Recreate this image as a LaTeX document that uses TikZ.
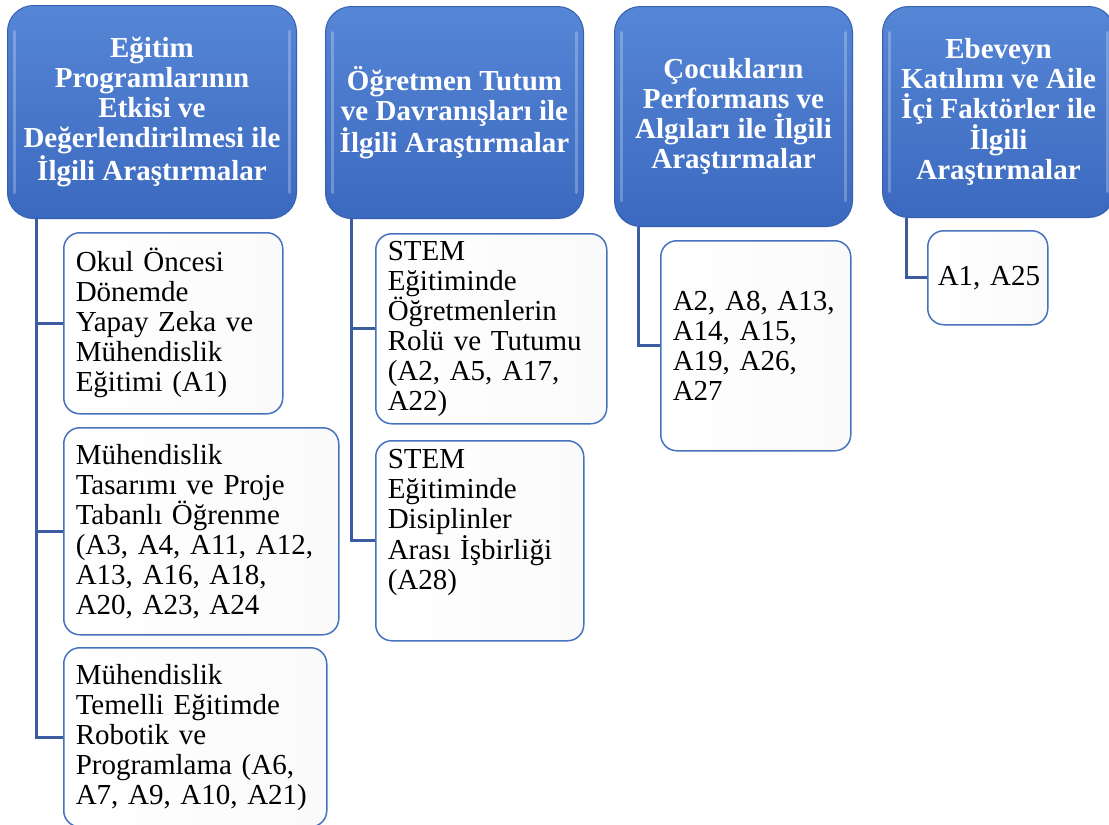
\documentclass[tikz,border=0pt]{standalone}
\usepackage{fontspec}
\setmainfont{Liberation Serif}
\usepackage{tikz}
\usetikzlibrary{positioning,calc}
\usepackage{xcolor}

\definecolor{topictop}{HTML}{5686D6}
\definecolor{topicbot}{HTML}{3B69BF}
\definecolor{topicedge}{HTML}{3560B0}
\definecolor{itemedge}{HTML}{4672C0}
\definecolor{linkblue}{HTML}{3C5CA2}

\begin{document}
\begin{tikzpicture}[
  x=1pt, y=-1pt,
  topic/.style={rounded corners=26pt, draw=topicedge, line width=1pt,
    top color=topictop, bottom color=topicbot, anchor=north west,
    align=center, text=white, inner sep=4pt,
    font=\bfseries\fontsize{29}{30}\selectfont,
    path picture={
      \draw[white, opacity=0.25, line width=3.5pt, line cap=round]
        ([shift={(7pt,-26pt)}]path picture bounding box.north west)
        -- ([shift={(7pt,26pt)}]path picture bounding box.south west);
      \draw[white, opacity=0.25, line width=3.5pt, line cap=round]
        ([shift={(-7pt,-26pt)}]path picture bounding box.north east)
        -- ([shift={(-7pt,26pt)}]path picture bounding box.south east);
    }},
  item/.style={rounded corners=16pt, draw=itemedge, line width=1.5pt,
    left color=white, right color=gray!4, anchor=north west,
    align=left, inner xsep=12pt, inner ysep=6pt,
    font=\fontsize{29}{30}\selectfont},
  link/.style={draw=linkblue, line width=3pt},
]
\useasboundingbox (0,0) rectangle (1109,825);

% ---- Topic headers ----
\node[topic, minimum width=289pt, minimum height=213pt] (h1) at (7,5)
  {Eğitim\\Programlarının\\Etkisi ve\\Değerlendirilmesi ile\\İlgili Araştırmalar};
\node[topic, minimum width=258pt, minimum height=212pt] (h2) at (325,6)
  {Öğretmen Tutum\\ve Davranışları ile\\İlgili Araştırmalar};
\node[topic, minimum width=238pt, minimum height=220pt] (h3) at (614,6)
  {Çocukların\\Performans ve\\Algıları ile İlgili\\Araştırmalar};
\node[topic, minimum width=232pt, minimum height=211pt] (h4) at (882,6)
  {Ebeveyn\\Katılımı ve Aile\\İçi Faktörler ile\\İlgili\\Araştırmalar};

% ---- Column 1 ----
\node[item, text width=195pt, minimum height=181pt] (c11) at (63,232)
  {Okul Öncesi\\Dönemde\\Yapay Zeka ve\\Mühendislik\\Eğitimi (A1)};
\node[item, text width=251pt, minimum height=207pt] (c12) at (63,427)
  {Mühendislik\\Tasarımı ve Proje\\Tabanlı Öğrenme\\(A3, A4, A11, A12,\\A13, A16, A18,\\A20, A23, A24};
\node[item, text width=239pt, minimum height=179pt] (c13) at (63,647)
  {Mühendislik\\Temelli Eğitimde\\Robotik ve\\Programlama (A6,\\A7, A9, A10, A21)};

% ---- Column 2 ----
\node[item, text width=207pt, minimum height=190pt] (c21) at (375,233)
  {STEM\\Eğitiminde\\Öğretmenlerin\\Rolü ve Tutumu\\(A2, A5, A17,\\A22)};
\node[item, text width=184pt, text height=22pt, text depth=166pt] (c22) at (375,440)
  {STEM\\Eğitiminde\\Disiplinler\\Arası İşbirliği\\(A28)};

% ---- Column 3 ----
\node[item, text width=166pt, minimum height=210pt] (c31) at (660,240)
  {A2, A8, A13,\\A14, A15,\\A19, A26,\\A27};

% ---- Column 4 ----
\node[item, inner xsep=10pt, text width=100pt, minimum height=94pt] (c41) at (927,230)
  {\mbox{A1, A25}};

% ---- Connectors ----
\foreach \c in {c11,c12,c13}
  \draw[link] ([xshift=29pt]h1.south west) |- (\c.west);
\foreach \c in {c21,c22}
  \draw[link] ([xshift=26pt]h2.south west) |- (\c.west);
\draw[link] ([xshift=24pt]h3.south west) |- (c31.west);
\draw[link] ([xshift=24pt]h4.south west) |- (c41.west);

\end{tikzpicture}
\end{document}
